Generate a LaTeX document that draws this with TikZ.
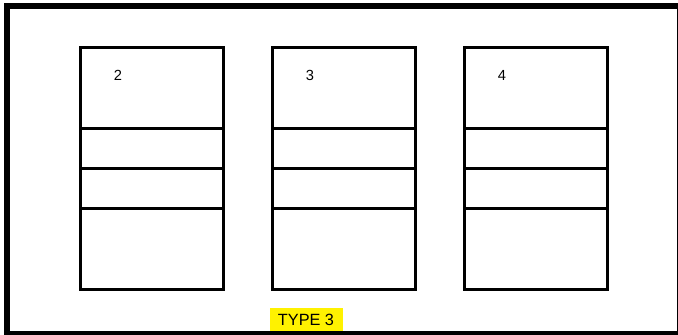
\documentclass[tikz,border=0pt]{standalone}
\usepackage{fontspec}
\setmainfont{Liberation Sans}
\begin{document}
\begin{tikzpicture}[x=0.75pt,y=-0.75pt,
  cell/.style={draw=black,line width=2pt,minimum width=143*0.75pt,inner sep=0pt,anchor=north west},
  tallcell/.style={cell,minimum height=81*0.75pt},
  thincell/.style={cell,minimum height=40*0.75pt},
  numlabel/.style={font=\fontsize{11pt}{13pt}\selectfont,inner sep=0pt},
  typelabel/.style={fill=yellow,inner sep=0pt,minimum width=73*0.75pt,minimum height=24*0.75pt,font=\fontsize{12.2pt}{14pt}\selectfont}]
\useasboundingbox (0,0) rectangle (678,335);
\node[typelabel] (type) at (306,320) {TYPE 3};
\draw[line width=4.8pt] (7,6) rectangle (680,334);
\foreach \i/\x/\n in {1/79/2,2/271/3,3/463/4}{
  \node[tallcell] (a\i) at (\x,46) {};
  \node[thincell] (b\i) at (\x,127) {};
  \node[thincell] (c\i) at (\x,167) {};
  \node[tallcell] (d\i) at (\x,207) {};
  \node[numlabel] (n\i) at (\x+39,75) {\n};
}
\end{tikzpicture}
\end{document}
